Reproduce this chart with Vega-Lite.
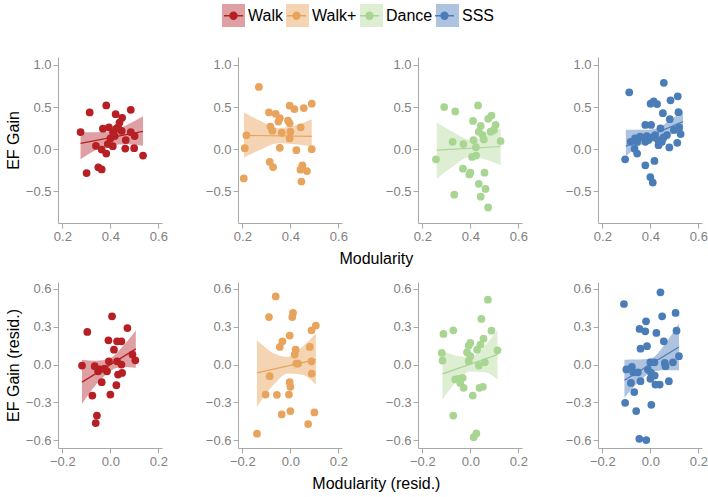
{
"$schema":"https://vega.github.io/schema/vega-lite/v6.json",
"padding":{"left":5,"top":3,"right":3,"bottom":5},
"background":"white",
"config":{"view":{"stroke":null},"font":"Liberation Sans",
"axis":{"grid":false,"domainColor":"#a8a8a8","tickColor":"#a8a8a8","labelColor":"#808080","labelFontSize":13,"labelFont":"Liberation Sans","tickSize":5,"labelPadding":2,"titleFont":"Liberation Sans","titleFontSize":16,"titleFontWeight":"normal","titleColor":"black","labelFlush":false,"titlePadding":4}},
"datasets":{
"pts":[
{"r":"t","g":"Walk","x":0.276,"y":0.204},{"r":"t","g":"Walk","x":0.314,"y":0.436},{"r":"t","g":"Walk","x":0.383,"y":0.52},{"r":"t","g":"Walk","x":0.485,"y":0.468},{"r":"t","g":"Walk","x":0.422,"y":0.416},{"r":"t","g":"Walk","x":0.449,"y":0.372},{"r":"t","g":"Walk","x":0.438,"y":0.316},{"r":"t","g":"Walk","x":0.369,"y":0.244},{"r":"t","g":"Walk","x":0.394,"y":0.26},{"r":"t","g":"Walk","x":0.425,"y":0.244},{"r":"t","g":"Walk","x":0.411,"y":0.204},{"r":"t","g":"Walk","x":0.447,"y":0.216},{"r":"t","g":"Walk","x":0.485,"y":0.204},{"r":"t","g":"Walk","x":0.501,"y":0.156},{"r":"t","g":"Walk","x":0.464,"y":0.108},{"r":"t","g":"Walk","x":0.4,"y":0.128},{"r":"t","g":"Walk","x":0.418,"y":0.156},{"r":"t","g":"Walk","x":0.34,"y":0.04},{"r":"t","g":"Walk","x":0.364,"y":-0.004},{"r":"t","g":"Walk","x":0.383,"y":-0.052},{"r":"t","g":"Walk","x":0.41,"y":0.036},{"r":"t","g":"Walk","x":0.389,"y":0.06},{"r":"t","g":"Walk","x":0.462,"y":0.008},{"r":"t","g":"Walk","x":0.499,"y":0.012},{"r":"t","g":"Walk","x":0.536,"y":-0.076},{"r":"t","g":"Walk","x":0.35,"y":-0.216},{"r":"t","g":"Walk","x":0.364,"y":-0.24},{"r":"t","g":"Walk","x":0.301,"y":-0.284},{"r":"t","g":"Walk","x":0.432,"y":0.26},
{"r":"t","g":"Walk+","x":0.269,"y":0.74},{"r":"t","g":"Walk+","x":0.217,"y":0.164},{"r":"t","g":"Walk+","x":0.21,"y":0.012},{"r":"t","g":"Walk+","x":0.206,"y":-0.348},{"r":"t","g":"Walk+","x":0.311,"y":0.436},{"r":"t","g":"Walk+","x":0.339,"y":0.42},{"r":"t","g":"Walk+","x":0.356,"y":0.368},{"r":"t","g":"Walk+","x":0.35,"y":0.328},{"r":"t","g":"Walk+","x":0.317,"y":0.268},{"r":"t","g":"Walk+","x":0.325,"y":0.22},{"r":"t","g":"Walk+","x":0.364,"y":0.196},{"r":"t","g":"Walk+","x":0.39,"y":0.34},{"r":"t","g":"Walk+","x":0.397,"y":0.308},{"r":"t","g":"Walk+","x":0.4,"y":0.208},{"r":"t","g":"Walk+","x":0.397,"y":0.128},{"r":"t","g":"Walk+","x":0.397,"y":0.516},{"r":"t","g":"Walk+","x":0.417,"y":0.476},{"r":"t","g":"Walk+","x":0.456,"y":0.488},{"r":"t","g":"Walk+","x":0.489,"y":0.54},{"r":"t","g":"Walk+","x":0.443,"y":0.26},{"r":"t","g":"Walk+","x":0.356,"y":0.016},{"r":"t","g":"Walk+","x":0.425,"y":-0.012},{"r":"t","g":"Walk+","x":0.489,"y":0.0},{"r":"t","g":"Walk+","x":0.314,"y":-0.152},{"r":"t","g":"Walk+","x":0.328,"y":-0.212},{"r":"t","g":"Walk+","x":0.45,"y":-0.192},{"r":"t","g":"Walk+","x":0.442,"y":-0.244},{"r":"t","g":"Walk+","x":0.469,"y":-0.26},{"r":"t","g":"Walk+","x":0.446,"y":-0.384},
{"r":"t","g":"Dance","x":0.291,"y":0.5},{"r":"t","g":"Dance","x":0.337,"y":0.448},{"r":"t","g":"Dance","x":0.432,"y":0.52},{"r":"t","g":"Dance","x":0.411,"y":0.336},{"r":"t","g":"Dance","x":0.443,"y":0.276},{"r":"t","g":"Dance","x":0.474,"y":0.36},{"r":"t","g":"Dance","x":0.488,"y":0.4},{"r":"t","g":"Dance","x":0.505,"y":0.288},{"r":"t","g":"Dance","x":0.498,"y":0.228},{"r":"t","g":"Dance","x":0.484,"y":0.208},{"r":"t","g":"Dance","x":0.435,"y":0.208},{"r":"t","g":"Dance","x":0.451,"y":0.168},{"r":"t","g":"Dance","x":0.456,"y":0.116},{"r":"t","g":"Dance","x":0.413,"y":0.108},{"r":"t","g":"Dance","x":0.526,"y":0.096},{"r":"t","g":"Dance","x":0.326,"y":0.088},{"r":"t","g":"Dance","x":0.371,"y":0.06},{"r":"t","g":"Dance","x":0.423,"y":0.024},{"r":"t","g":"Dance","x":0.257,"y":-0.12},{"r":"t","g":"Dance","x":0.407,"y":-0.092},{"r":"t","g":"Dance","x":0.424,"y":-0.076},{"r":"t","g":"Dance","x":0.369,"y":-0.232},{"r":"t","g":"Dance","x":0.4,"y":-0.28},{"r":"t","g":"Dance","x":0.396,"y":-0.3},{"r":"t","g":"Dance","x":0.459,"y":-0.28},{"r":"t","g":"Dance","x":0.435,"y":-0.412},{"r":"t","g":"Dance","x":0.463,"y":-0.472},{"r":"t","g":"Dance","x":0.443,"y":-0.564},{"r":"t","g":"Dance","x":0.333,"y":-0.54},{"r":"t","g":"Dance","x":0.474,"y":-0.692},
{"r":"t","g":"SSS","x":0.456,"y":0.788},{"r":"t","g":"SSS","x":0.312,"y":0.676},{"r":"t","g":"SSS","x":0.514,"y":0.628},{"r":"t","g":"SSS","x":0.401,"y":0.54},{"r":"t","g":"SSS","x":0.414,"y":0.568},{"r":"t","g":"SSS","x":0.428,"y":0.536},{"r":"t","g":"SSS","x":0.484,"y":0.58},{"r":"t","g":"SSS","x":0.452,"y":0.428},{"r":"t","g":"SSS","x":0.517,"y":0.44},{"r":"t","g":"SSS","x":0.481,"y":0.356},{"r":"t","g":"SSS","x":0.379,"y":0.288},{"r":"t","g":"SSS","x":0.403,"y":0.288},{"r":"t","g":"SSS","x":0.442,"y":0.248},{"r":"t","g":"SSS","x":0.52,"y":0.26},{"r":"t","g":"SSS","x":0.498,"y":0.228},{"r":"t","g":"SSS","x":0.526,"y":0.18},{"r":"t","g":"SSS","x":0.469,"y":0.168},{"r":"t","g":"SSS","x":0.42,"y":0.168},{"r":"t","g":"SSS","x":0.385,"y":0.156},{"r":"t","g":"SSS","x":0.357,"y":0.148},{"r":"t","g":"SSS","x":0.336,"y":0.128},{"r":"t","g":"SSS","x":0.318,"y":0.088},{"r":"t","g":"SSS","x":0.345,"y":0.088},{"r":"t","g":"SSS","x":0.379,"y":0.088},{"r":"t","g":"SSS","x":0.432,"y":0.108},{"r":"t","g":"SSS","x":0.448,"y":0.088},{"r":"t","g":"SSS","x":0.434,"y":0.048},{"r":"t","g":"SSS","x":0.512,"y":0.076},{"r":"t","g":"SSS","x":0.479,"y":0.02},{"r":"t","g":"SSS","x":0.334,"y":0.004},{"r":"t","g":"SSS","x":0.345,"y":-0.052},{"r":"t","g":"SSS","x":0.295,"y":-0.12},{"r":"t","g":"SSS","x":0.417,"y":-0.14},{"r":"t","g":"SSS","x":0.379,"y":-0.192},{"r":"t","g":"SSS","x":0.4,"y":-0.332},{"r":"t","g":"SSS","x":0.41,"y":-0.396},{"r":"t","g":"SSS","x":0.392,"y":0.108},{"r":"t","g":"SSS","x":0.409,"y":0.14},{"r":"t","g":"SSS","x":0.455,"y":0.14},
{"r":"b","g":"Walk","x":0.007,"y":0.382},{"r":"b","g":"Walk","x":0.071,"y":0.289},{"r":"b","g":"Walk","x":-0.096,"y":0.258},{"r":"b","g":"Walk","x":-0.008,"y":0.192},{"r":"b","g":"Walk","x":0.028,"y":0.184},{"r":"b","g":"Walk","x":0.046,"y":0.184},{"r":"b","g":"Walk","x":0.015,"y":0.118},{"r":"b","g":"Walk","x":0.092,"y":0.079},{"r":"b","g":"Walk","x":0.104,"y":0.034},{"r":"b","g":"Walk","x":-0.006,"y":0.026},{"r":"b","g":"Walk","x":0.028,"y":0.026},{"r":"b","g":"Walk","x":0.046,"y":0.0},{"r":"b","g":"Walk","x":-0.118,"y":-0.008},{"r":"b","g":"Walk","x":-0.065,"y":-0.013},{"r":"b","g":"Walk","x":-0.044,"y":-0.039},{"r":"b","g":"Walk","x":-0.024,"y":-0.032},{"r":"b","g":"Walk","x":-0.014,"y":-0.053},{"r":"b","g":"Walk","x":-0.051,"y":-0.053},{"r":"b","g":"Walk","x":0.032,"y":-0.079},{"r":"b","g":"Walk","x":0.049,"y":-0.066},{"r":"b","g":"Walk","x":0.025,"y":-0.163},{"r":"b","g":"Walk","x":-0.036,"y":-0.139},{"r":"b","g":"Walk","x":-0.075,"y":-0.245},{"r":"b","g":"Walk","x":0.0,"y":-0.237},{"r":"b","g":"Walk","x":-0.056,"y":-0.403},{"r":"b","g":"Walk","x":-0.061,"y":-0.463},
{"r":"b","g":"Walk+","x":-0.061,"y":0.539},{"r":"b","g":"Walk+","x":0.011,"y":0.408},{"r":"b","g":"Walk+","x":0.008,"y":0.376},{"r":"b","g":"Walk+","x":-0.089,"y":0.376},{"r":"b","g":"Walk+","x":0.106,"y":0.308},{"r":"b","g":"Walk+","x":0.088,"y":0.271},{"r":"b","g":"Walk+","x":-0.003,"y":0.229},{"r":"b","g":"Walk+","x":-0.033,"y":0.184},{"r":"b","g":"Walk+","x":-0.044,"y":0.139},{"r":"b","g":"Walk+","x":0.022,"y":0.118},{"r":"b","g":"Walk+","x":0.081,"y":0.139},{"r":"b","g":"Walk+","x":0.018,"y":0.079},{"r":"b","g":"Walk+","x":0.088,"y":0.026},{"r":"b","g":"Walk+","x":0.025,"y":0.008},{"r":"b","g":"Walk+","x":0.032,"y":0.008},{"r":"b","g":"Walk+","x":-0.086,"y":-0.092},{"r":"b","g":"Walk+","x":0.089,"y":-0.071},{"r":"b","g":"Walk+","x":-0.003,"y":-0.139},{"r":"b","g":"Walk+","x":0.0,"y":-0.176},{"r":"b","g":"Walk+","x":-0.103,"y":-0.237},{"r":"b","g":"Walk+","x":-0.056,"y":-0.239},{"r":"b","g":"Walk+","x":-0.006,"y":-0.237},{"r":"b","g":"Walk+","x":0.0,"y":-0.368},{"r":"b","g":"Walk+","x":-0.036,"y":-0.395},{"r":"b","g":"Walk+","x":0.1,"y":-0.379},{"r":"b","g":"Walk+","x":0.074,"y":-0.471},{"r":"b","g":"Walk+","x":-0.139,"y":-0.547},
{"r":"b","g":"Dance","x":0.073,"y":0.513},{"r":"b","g":"Dance","x":0.046,"y":0.361},{"r":"b","g":"Dance","x":-0.112,"y":0.242},{"r":"b","g":"Dance","x":-0.071,"y":0.271},{"r":"b","g":"Dance","x":0.088,"y":0.268},{"r":"b","g":"Dance","x":0.055,"y":0.205},{"r":"b","g":"Dance","x":0.0,"y":0.171},{"r":"b","g":"Dance","x":-0.007,"y":0.15},{"r":"b","g":"Dance","x":0.042,"y":0.158},{"r":"b","g":"Dance","x":0.028,"y":0.118},{"r":"b","g":"Dance","x":0.113,"y":0.113},{"r":"b","g":"Dance","x":-0.014,"y":0.097},{"r":"b","g":"Dance","x":-0.119,"y":0.092},{"r":"b","g":"Dance","x":0.0,"y":0.066},{"r":"b","g":"Dance","x":-0.007,"y":0.026},{"r":"b","g":"Dance","x":-0.116,"y":0.032},{"r":"b","g":"Dance","x":0.06,"y":0.018},{"r":"b","g":"Dance","x":0.035,"y":-0.008},{"r":"b","g":"Dance","x":-0.049,"y":-0.113},{"r":"b","g":"Dance","x":-0.032,"y":-0.105},{"r":"b","g":"Dance","x":-0.063,"y":-0.118},{"r":"b","g":"Dance","x":-0.042,"y":-0.145},{"r":"b","g":"Dance","x":-0.028,"y":-0.184},{"r":"b","g":"Dance","x":0.038,"y":-0.184},{"r":"b","g":"Dance","x":0.052,"y":-0.176},{"r":"b","g":"Dance","x":0.01,"y":-0.245},{"r":"b","g":"Dance","x":-0.071,"y":-0.403},{"r":"b","g":"Dance","x":0.025,"y":-0.545},{"r":"b","g":"Dance","x":0.014,"y":-0.574},
{"r":"b","g":"SSS","x":0.042,"y":0.571},{"r":"b","g":"SSS","x":-0.11,"y":0.479},{"r":"b","g":"SSS","x":0.105,"y":0.408},{"r":"b","g":"SSS","x":0.049,"y":0.382},{"r":"b","g":"SSS","x":-0.018,"y":0.342},{"r":"b","g":"SSS","x":-0.045,"y":0.282},{"r":"b","g":"SSS","x":-0.021,"y":0.263},{"r":"b","g":"SSS","x":0.025,"y":0.25},{"r":"b","g":"SSS","x":0.109,"y":0.268},{"r":"b","g":"SSS","x":0.056,"y":0.184},{"r":"b","g":"SSS","x":-0.014,"y":0.145},{"r":"b","g":"SSS","x":-0.041,"y":0.126},{"r":"b","g":"SSS","x":0.0,"y":0.018},{"r":"b","g":"SSS","x":0.017,"y":0.018},{"r":"b","g":"SSS","x":0.06,"y":0.013},{"r":"b","g":"SSS","x":0.119,"y":0.066},{"r":"b","g":"SSS","x":0.094,"y":0.018},{"r":"b","g":"SSS","x":0.063,"y":-0.013},{"r":"b","g":"SSS","x":-0.1,"y":-0.039},{"r":"b","g":"SSS","x":-0.077,"y":-0.018},{"r":"b","g":"SSS","x":-0.071,"y":-0.061},{"r":"b","g":"SSS","x":-0.052,"y":-0.061},{"r":"b","g":"SSS","x":-0.01,"y":-0.039},{"r":"b","g":"SSS","x":0.003,"y":-0.066},{"r":"b","g":"SSS","x":0.018,"y":-0.087},{"r":"b","g":"SSS","x":0.0,"y":-0.113},{"r":"b","g":"SSS","x":-0.041,"y":-0.132},{"r":"b","g":"SSS","x":-0.081,"y":-0.145},{"r":"b","g":"SSS","x":0.077,"y":-0.132},{"r":"b","g":"SSS","x":0.039,"y":-0.158},{"r":"b","g":"SSS","x":0.021,"y":-0.158},{"r":"b","g":"SSS","x":-0.067,"y":-0.218},{"r":"b","g":"SSS","x":-0.105,"y":-0.303},{"r":"b","g":"SSS","x":0.004,"y":-0.318},{"r":"b","g":"SSS","x":-0.059,"y":-0.368},{"r":"b","g":"SSS","x":-0.046,"y":-0.587},{"r":"b","g":"SSS","x":-0.017,"y":-0.597}
],
"fit":[
{"r":"t","g":"Walk","x":0.276,"lo":-0.12,"hi":0.2,"fit":0.068},{"r":"t","g":"Walk","x":0.34,"lo":-0.01,"hi":0.2},{"r":"t","g":"Walk","x":0.405,"lo":0.05,"hi":0.215},{"r":"t","g":"Walk","x":0.47,"lo":0.06,"hi":0.29},{"r":"t","g":"Walk","x":0.536,"lo":0.04,"hi":0.39,"fit":0.212},
{"r":"t","g":"Walk+","x":0.207,"lo":-0.1,"hi":0.436,"fit":0.164},{"r":"t","g":"Walk+","x":0.28,"lo":0.0,"hi":0.33},{"r":"t","g":"Walk+","x":0.35,"lo":0.07,"hi":0.25},{"r":"t","g":"Walk+","x":0.42,"lo":0.06,"hi":0.28},{"r":"t","g":"Walk+","x":0.489,"lo":0.036,"hi":0.356,"fit":0.152},
{"r":"t","g":"Dance","x":0.26,"lo":-0.352,"hi":0.316,"fit":-0.012},{"r":"t","g":"Dance","x":0.33,"lo":-0.2,"hi":0.2},{"r":"t","g":"Dance","x":0.4,"lo":-0.09,"hi":0.11},{"r":"t","g":"Dance","x":0.46,"lo":-0.12,"hi":0.15},{"r":"t","g":"Dance","x":0.526,"lo":-0.192,"hi":0.248,"fit":0.032},
{"r":"t","g":"SSS","x":0.298,"lo":-0.08,"hi":0.23,"fit":0.036},{"r":"t","g":"SSS","x":0.36,"lo":0.05,"hi":0.23},{"r":"t","g":"SSS","x":0.42,"lo":0.13,"hi":0.24},{"r":"t","g":"SSS","x":0.48,"lo":0.17,"hi":0.34},{"r":"t","g":"SSS","x":0.536,"lo":0.2,"hi":0.46,"fit":0.328},
{"r":"b","g":"Walk","x":-0.118,"lo":-0.311,"hi":0.039,"fit":-0.139},{"r":"b","g":"Walk","x":-0.06,"lo":-0.16,"hi":0.03},{"r":"b","g":"Walk","x":0.0,"lo":-0.05,"hi":0.05},{"r":"b","g":"Walk","x":0.05,"lo":-0.02,"hi":0.14},{"r":"b","g":"Walk","x":0.106,"lo":-0.026,"hi":0.271,"fit":0.124},
{"r":"b","g":"Walk+","x":-0.139,"lo":-0.334,"hi":0.192,"fit":-0.066},{"r":"b","g":"Walk+","x":-0.07,"lo":-0.16,"hi":0.09},{"r":"b","g":"Walk+","x":-0.01,"lo":-0.07,"hi":0.06},{"r":"b","g":"Walk+","x":0.05,"lo":-0.08,"hi":0.14},{"r":"b","g":"Walk+","x":0.106,"lo":-0.158,"hi":0.245,"fit":0.039},
{"r":"b","g":"Dance","x":-0.116,"lo":-0.276,"hi":0.111,"fit":-0.074},{"r":"b","g":"Dance","x":-0.06,"lo":-0.14,"hi":0.07},{"r":"b","g":"Dance","x":0.0,"lo":-0.055,"hi":0.06},{"r":"b","g":"Dance","x":0.06,"lo":-0.06,"hi":0.15},{"r":"b","g":"Dance","x":0.113,"lo":-0.118,"hi":0.271,"fit":0.079},
{"r":"b","g":"SSS","x":-0.108,"lo":-0.263,"hi":0.039,"fit":-0.124},{"r":"b","g":"SSS","x":-0.05,"lo":-0.14,"hi":0.04},{"r":"b","g":"SSS","x":0.005,"lo":-0.06,"hi":0.05},{"r":"b","g":"SSS","x":0.06,"lo":-0.045,"hi":0.16},{"r":"b","g":"SSS","x":0.119,"lo":-0.045,"hi":0.324,"fit":0.139}
]},
"spacing":15,
"vconcat":[
{"title":{"text":"Modularity","orient":"bottom","anchor":"middle","fontSize":16,"fontWeight":"normal","font":"Liberation Sans","color":"black","offset":8,"dx":20},
"bounds":"flush","spacing":76,
"hconcat":[
{"width":104,"height":166,
"encoding":{"x":{"field":"x","type":"quantitative","scale":{"domain":[0.182,0.615],"nice":false,"zero":false},"axis":{"values":[0.2,0.4,0.6],"format":".1f","title":null}}},
"layer":[
{"data":{"name":"fit"},"transform":[{"filter":"datum.r=='t' && datum.g=='Walk'"}],"mark":{"type":"area","interpolate":"monotone","opacity":1},
"encoding":{"y":{"field":"lo","type":"quantitative","scale":{"domain":[-0.877,1.095],"nice":false,"zero":false},"axis":{"values":[-0.5,0,0.5,1],"format":".1f","title":"EF Gain"}},"y2":{"field":"hi"},
"fill":{"field":"g","type":"nominal","scale":{"domain":["Walk","Walk+","Dance","SSS"],"range":["#DFA0A4","#F4D4B2","#DDEED3","#AEC3E0"]},
"legend":{"title":null,"orient":"none","legendX":163,"legendY":-54,"direction":"horizontal","symbolType":"square","symbolSize":529,"symbolOpacity":1,"symbolStrokeWidth":1.5,"symbolStrokeColor":"transparent","labelFontSize":16,"labelFont":"Liberation Sans","labelColor":"black","labelOffset":2,"columnPadding":0,"padding":0,"zindex":0,
"encode":{"symbols":{"update":{"stroke":{"value":"transparent"}}}}}}}},
{"data":{"name":"pts"},"transform":[{"filter":"datum.r=='t' && datum.g=='Walk'"}],"mark":{"type":"circle","size":60,"opacity":1},
"encoding":{"y":{"field":"y","type":"quantitative"},"color":{"field":"g","type":"nominal","scale":{"range":["#A9D593","#4A7CB8","#B61F24","#E8A45C"]},
"legend":{"title":null,"orient":"none","legendX":163,"legendY":-54,"direction":"horizontal","values":["Walk","Walk+","Dance","SSS"],"symbolType":"M-0.83,0H0.83M-0.3,0A0.3,0.3,0,1,1,0.3,0A0.3,0.3,0,1,1,-0.3,0","symbolSize":529,"symbolOpacity":1,"symbolStrokeWidth":1.5,"labelFontSize":16,"labelFont":"Liberation Sans","labelOpacity":0,"labelOffset":2,"columnPadding":0,"padding":0,"zindex":1,
"encode":{"symbols":{"update":{"fill":{"scale":"color","field":"value"},"stroke":{"scale":"color","field":"value"},"opacity":{"value":1}}}}}}}},
{"data":{"name":"fit"},"transform":[{"filter":"datum.r=='t' && datum.g=='Walk' && isValid(datum.fit)"}],"mark":{"type":"line","strokeWidth":1.2},
"encoding":{"y":{"field":"fit","type":"quantitative"},"color":{"field":"g","type":"nominal"}}}
]},
{"width":104,"height":166,
"encoding":{"x":{"field":"x","type":"quantitative","scale":{"domain":[0.182,0.615],"nice":false,"zero":false},"axis":{"values":[0.2,0.4,0.6],"format":".1f","title":null}}},
"layer":[
{"data":{"name":"fit"},"transform":[{"filter":"datum.r=='t' && datum.g=='Walk+'"}],"mark":{"type":"area","interpolate":"monotone","opacity":1},
"encoding":{"y":{"field":"lo","type":"quantitative","scale":{"domain":[-0.877,1.095],"nice":false,"zero":false},"axis":{"values":[-0.5,0,0.5,1],"format":".1f","title":null}},"y2":{"field":"hi"},"fill":{"field":"g","type":"nominal"}}},
{"data":{"name":"pts"},"transform":[{"filter":"datum.r=='t' && datum.g=='Walk+'"}],"mark":{"type":"circle","size":60,"opacity":1},
"encoding":{"y":{"field":"y","type":"quantitative"},"color":{"field":"g","type":"nominal"}}},
{"data":{"name":"fit"},"transform":[{"filter":"datum.r=='t' && datum.g=='Walk+' && isValid(datum.fit)"}],"mark":{"type":"line","strokeWidth":1.2},
"encoding":{"y":{"field":"fit","type":"quantitative"},"color":{"field":"g","type":"nominal"}}}
]},
{"width":104,"height":166,
"encoding":{"x":{"field":"x","type":"quantitative","scale":{"domain":[0.182,0.615],"nice":false,"zero":false},"axis":{"values":[0.2,0.4,0.6],"format":".1f","title":null}}},
"layer":[
{"data":{"name":"fit"},"transform":[{"filter":"datum.r=='t' && datum.g=='Dance'"}],"mark":{"type":"area","interpolate":"monotone","opacity":1},
"encoding":{"y":{"field":"lo","type":"quantitative","scale":{"domain":[-0.877,1.095],"nice":false,"zero":false},"axis":{"values":[-0.5,0,0.5,1],"format":".1f","title":null}},"y2":{"field":"hi"},"fill":{"field":"g","type":"nominal"}}},
{"data":{"name":"pts"},"transform":[{"filter":"datum.r=='t' && datum.g=='Dance'"}],"mark":{"type":"circle","size":60,"opacity":1},
"encoding":{"y":{"field":"y","type":"quantitative"},"color":{"field":"g","type":"nominal"}}},
{"data":{"name":"fit"},"transform":[{"filter":"datum.r=='t' && datum.g=='Dance' && isValid(datum.fit)"}],"mark":{"type":"line","strokeWidth":1.2},
"encoding":{"y":{"field":"fit","type":"quantitative"},"color":{"field":"g","type":"nominal"}}}
]},
{"width":104,"height":166,
"encoding":{"x":{"field":"x","type":"quantitative","scale":{"domain":[0.182,0.615],"nice":false,"zero":false},"axis":{"values":[0.2,0.4,0.6],"format":".1f","title":null}}},
"layer":[
{"data":{"name":"fit"},"transform":[{"filter":"datum.r=='t' && datum.g=='SSS'"}],"mark":{"type":"area","interpolate":"monotone","opacity":1},
"encoding":{"y":{"field":"lo","type":"quantitative","scale":{"domain":[-0.877,1.095],"nice":false,"zero":false},"axis":{"values":[-0.5,0,0.5,1],"format":".1f","title":null}},"y2":{"field":"hi"},"fill":{"field":"g","type":"nominal"}}},
{"data":{"name":"pts"},"transform":[{"filter":"datum.r=='t' && datum.g=='SSS'"}],"mark":{"type":"circle","size":60,"opacity":1},
"encoding":{"y":{"field":"y","type":"quantitative"},"color":{"field":"g","type":"nominal"}}},
{"data":{"name":"fit"},"transform":[{"filter":"datum.r=='t' && datum.g=='SSS' && isValid(datum.fit)"}],"mark":{"type":"line","strokeWidth":1.2},
"encoding":{"y":{"field":"fit","type":"quantitative"},"color":{"field":"g","type":"nominal"}}}
]}
]},
{"title":{"text":"Modularity (resid.)","orient":"bottom","anchor":"middle","fontSize":16,"fontWeight":"normal","font":"Liberation Sans","color":"black","offset":8,"dx":20},
"bounds":"flush","spacing":76,
"hconcat":[
{"width":104,"height":166,
"encoding":{"x":{"field":"x","type":"quantitative","scale":{"domain":[-0.218,0.215],"nice":false,"zero":false},"axis":{"values":[-0.2,0,0.2],"format":".1f","title":null}}},
"layer":[
{"data":{"name":"fit"},"transform":[{"filter":"datum.r=='b' && datum.g=='Walk'"}],"mark":{"type":"area","interpolate":"monotone","opacity":1},
"encoding":{"y":{"field":"lo","type":"quantitative","scale":{"domain":[-0.66,0.653],"nice":false,"zero":false},"axis":{"values":[-0.6,-0.3,0,0.3,0.6],"format":".1f","title":"EF Gain (resid.)"}},"y2":{"field":"hi"},"fill":{"field":"g","type":"nominal"}}},
{"data":{"name":"pts"},"transform":[{"filter":"datum.r=='b' && datum.g=='Walk'"}],"mark":{"type":"circle","size":60,"opacity":1},
"encoding":{"y":{"field":"y","type":"quantitative"},"color":{"field":"g","type":"nominal"}}},
{"data":{"name":"fit"},"transform":[{"filter":"datum.r=='b' && datum.g=='Walk' && isValid(datum.fit)"}],"mark":{"type":"line","strokeWidth":1.2},
"encoding":{"y":{"field":"fit","type":"quantitative"},"color":{"field":"g","type":"nominal"}}}
]},
{"width":104,"height":166,
"encoding":{"x":{"field":"x","type":"quantitative","scale":{"domain":[-0.218,0.215],"nice":false,"zero":false},"axis":{"values":[-0.2,0,0.2],"format":".1f","title":null}}},
"layer":[
{"data":{"name":"fit"},"transform":[{"filter":"datum.r=='b' && datum.g=='Walk+'"}],"mark":{"type":"area","interpolate":"monotone","opacity":1},
"encoding":{"y":{"field":"lo","type":"quantitative","scale":{"domain":[-0.66,0.653],"nice":false,"zero":false},"axis":{"values":[-0.6,-0.3,0,0.3,0.6],"format":".1f","title":null}},"y2":{"field":"hi"},"fill":{"field":"g","type":"nominal"}}},
{"data":{"name":"pts"},"transform":[{"filter":"datum.r=='b' && datum.g=='Walk+'"}],"mark":{"type":"circle","size":60,"opacity":1},
"encoding":{"y":{"field":"y","type":"quantitative"},"color":{"field":"g","type":"nominal"}}},
{"data":{"name":"fit"},"transform":[{"filter":"datum.r=='b' && datum.g=='Walk+' && isValid(datum.fit)"}],"mark":{"type":"line","strokeWidth":1.2},
"encoding":{"y":{"field":"fit","type":"quantitative"},"color":{"field":"g","type":"nominal"}}}
]},
{"width":104,"height":166,
"encoding":{"x":{"field":"x","type":"quantitative","scale":{"domain":[-0.218,0.215],"nice":false,"zero":false},"axis":{"values":[-0.2,0,0.2],"format":".1f","title":null}}},
"layer":[
{"data":{"name":"fit"},"transform":[{"filter":"datum.r=='b' && datum.g=='Dance'"}],"mark":{"type":"area","interpolate":"monotone","opacity":1},
"encoding":{"y":{"field":"lo","type":"quantitative","scale":{"domain":[-0.66,0.653],"nice":false,"zero":false},"axis":{"values":[-0.6,-0.3,0,0.3,0.6],"format":".1f","title":null}},"y2":{"field":"hi"},"fill":{"field":"g","type":"nominal"}}},
{"data":{"name":"pts"},"transform":[{"filter":"datum.r=='b' && datum.g=='Dance'"}],"mark":{"type":"circle","size":60,"opacity":1},
"encoding":{"y":{"field":"y","type":"quantitative"},"color":{"field":"g","type":"nominal"}}},
{"data":{"name":"fit"},"transform":[{"filter":"datum.r=='b' && datum.g=='Dance' && isValid(datum.fit)"}],"mark":{"type":"line","strokeWidth":1.2},
"encoding":{"y":{"field":"fit","type":"quantitative"},"color":{"field":"g","type":"nominal"}}}
]},
{"width":104,"height":166,
"encoding":{"x":{"field":"x","type":"quantitative","scale":{"domain":[-0.218,0.215],"nice":false,"zero":false},"axis":{"values":[-0.2,0,0.2],"format":".1f","title":null}}},
"layer":[
{"data":{"name":"fit"},"transform":[{"filter":"datum.r=='b' && datum.g=='SSS'"}],"mark":{"type":"area","interpolate":"monotone","opacity":1},
"encoding":{"y":{"field":"lo","type":"quantitative","scale":{"domain":[-0.66,0.653],"nice":false,"zero":false},"axis":{"values":[-0.6,-0.3,0,0.3,0.6],"format":".1f","title":null}},"y2":{"field":"hi"},"fill":{"field":"g","type":"nominal"}}},
{"data":{"name":"pts"},"transform":[{"filter":"datum.r=='b' && datum.g=='SSS'"}],"mark":{"type":"circle","size":60,"opacity":1},
"encoding":{"y":{"field":"y","type":"quantitative"},"color":{"field":"g","type":"nominal"}}},
{"data":{"name":"fit"},"transform":[{"filter":"datum.r=='b' && datum.g=='SSS' && isValid(datum.fit)"}],"mark":{"type":"line","strokeWidth":1.2},
"encoding":{"y":{"field":"fit","type":"quantitative"},"color":{"field":"g","type":"nominal"}}}
]}
]}
]
}
